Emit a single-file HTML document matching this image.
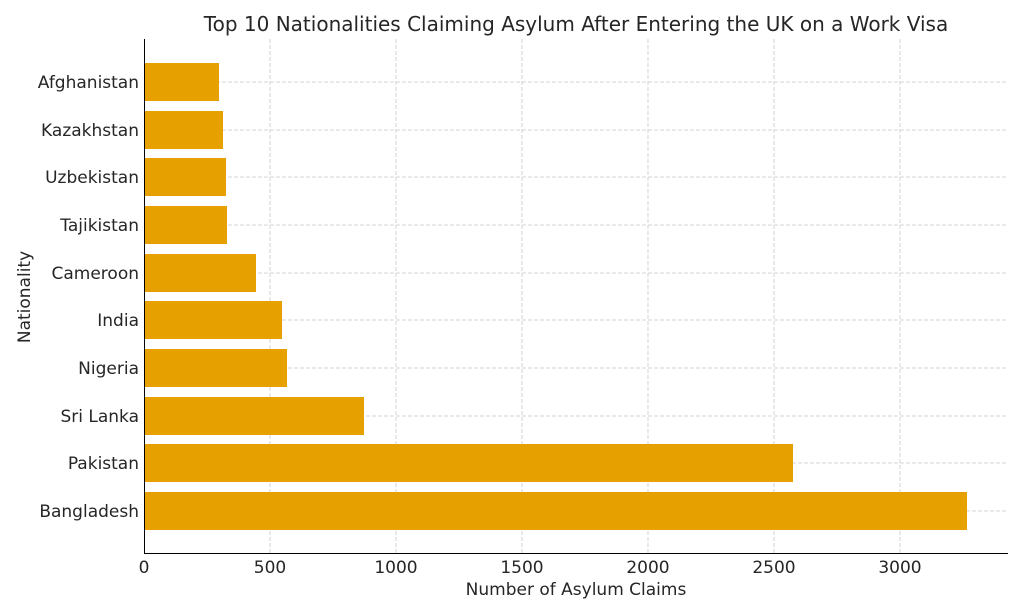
<!DOCTYPE html>
<html><head><meta charset="utf-8"><style>html,body{margin:0;padding:0;background:#fff}svg{display:block}</style></head><body>
<svg width="1024" height="614" xmlns="http://www.w3.org/2000/svg" font-family="DejaVu Sans, Liberation Sans, sans-serif" fill="#262626">
<rect width="1024" height="614" fill="#fff"/>
<g stroke="#c8c8c8" stroke-width="0.8" stroke-dasharray="4,2">
<line x1="270" y1="39" x2="270" y2="553"/><line x1="396" y1="39" x2="396" y2="553"/><line x1="522" y1="39" x2="522" y2="553"/><line x1="648" y1="39" x2="648" y2="553"/><line x1="774" y1="39" x2="774" y2="553"/><line x1="900" y1="39" x2="900" y2="553"/>
<line x1="144" y1="82" x2="1008" y2="82"/><line x1="144" y1="130" x2="1008" y2="130"/><line x1="144" y1="177" x2="1008" y2="177"/><line x1="144" y1="225" x2="1008" y2="225"/><line x1="144" y1="273" x2="1008" y2="273"/><line x1="144" y1="320" x2="1008" y2="320"/><line x1="144" y1="368" x2="1008" y2="368"/><line x1="144" y1="416" x2="1008" y2="416"/><line x1="144" y1="463" x2="1008" y2="463"/><line x1="144" y1="511" x2="1008" y2="511"/>
</g>
<g fill="#E6A000">
<rect x="144" y="63" width="75" height="38"/>
<rect x="144" y="111" width="79" height="38"/>
<rect x="144" y="158" width="82" height="38"/>
<rect x="144" y="206" width="83" height="38"/>
<rect x="144" y="254" width="112" height="38"/>
<rect x="144" y="301" width="138" height="38"/>
<rect x="144" y="349" width="143" height="38"/>
<rect x="144" y="397" width="220" height="38"/>
<rect x="144" y="444" width="649" height="38"/>
<rect x="144" y="492" width="823" height="38"/>
</g>
<g stroke="#000" stroke-width="1">
<line x1="144.5" y1="39" x2="144.5" y2="554"/><line x1="144" y1="553.5" x2="1008" y2="553.5"/>
</g>
<g font-size="17" text-anchor="end">
<text x="139" y="88">Afghanistan</text><text x="139" y="136">Kazakhstan</text><text x="139" y="183">Uzbekistan</text><text x="139" y="231">Tajikistan</text><text x="139" y="279">Cameroon</text><text x="139" y="326">India</text><text x="139" y="374">Nigeria</text><text x="139" y="422">Sri Lanka</text><text x="139" y="469">Pakistan</text><text x="139" y="517">Bangladesh</text>
</g>
<g font-size="17" text-anchor="middle">
<text x="144" y="573">0</text><text x="270" y="573">500</text><text x="396" y="573">1000</text><text x="522" y="573">1500</text><text x="648" y="573">2000</text><text x="774" y="573">2500</text><text x="900" y="573">3000</text>
<text x="576" y="595">Number of Asylum Claims</text>
<text x="576" y="31" font-size="20">Top 10 Nationalities Claiming Asylum After Entering the UK on a Work Visa</text>
<text x="30" y="297" transform="rotate(-90 30 297)">Nationality</text>
</g>
</svg>
</body></html>
